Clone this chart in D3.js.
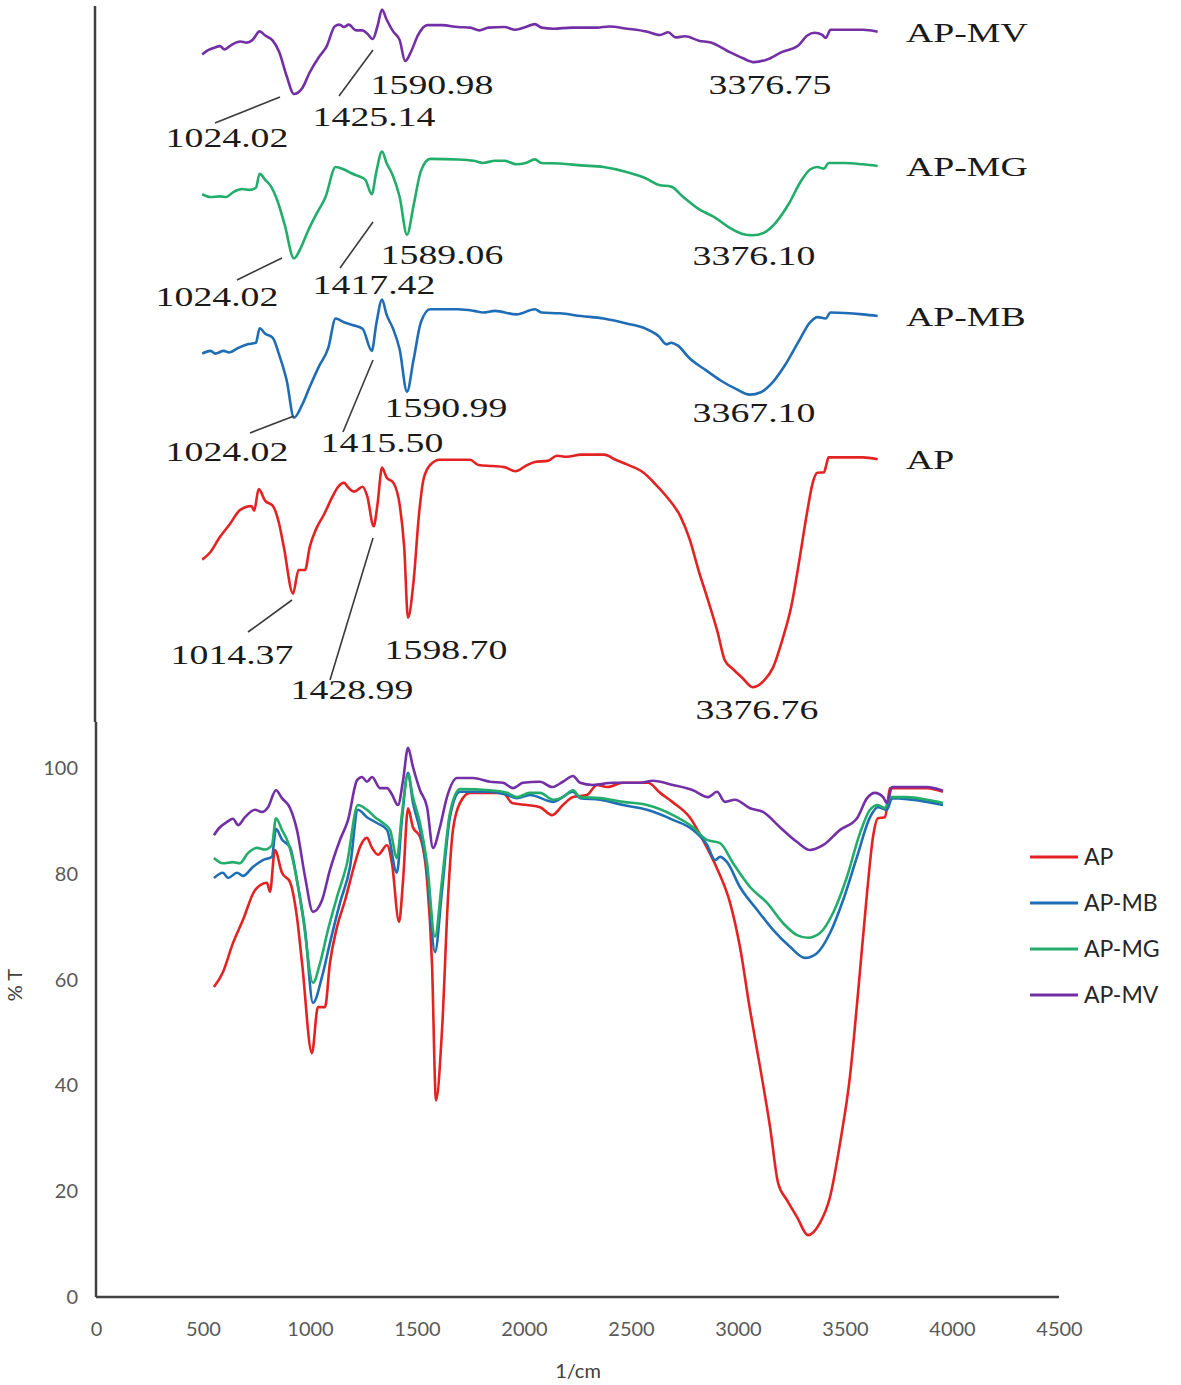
<!DOCTYPE html>
<html>
<head>
<meta charset="utf-8">
<script src="https://cdn.jsdelivr.net/npm/d3@7/dist/d3.min.js"></script>
<style>
body{margin:0;background:#fff;}
</style>
</head>
<body>
<svg id="chart" width="1181" height="1385"></svg>
<script>
// spectra: [wavenumber 1/cm, %T]
var apData = [[551,58.6],[593,61.4],[640,66.9],[687,71.3],[743,76.9],[799,78.3],[813,76.6],[836,84.5],[869,80.2],[907,78.4],[939,71.8],[963,63.1],[1009,46.1],[1037,54.8],[1070,54.8],[1093,63.1],[1126,69.9],[1164,75.0],[1210,82.0],[1234,85.1],[1266,86.8],[1290,84.9],[1318,83.6],[1360,85.4],[1383,82.0],[1416,70.9],[1435,78.8],[1458,92.4],[1481,88.8],[1514,87.0],[1547,78.8],[1570,63.1],[1589,37.2],[1617,50.5],[1645,75.6],[1668,88.3],[1701,93.4],[1748,95.3],[1902,95.3],[1944,93.4],[2014,93.0],[2075,92.6],[2131,91.1],[2182,93.0],[2229,94.5],[2294,94.9],[2341,96.8],[2388,96.4],[2463,97.2],[2579,97.2],[2636,95.3],[2696,93.5],[2776,90.6],[2836,86.4],[2902,81.0],[2963,74.5],[3009,66.2],[3056,54.3],[3103,43.5],[3150,32.1],[3187,21.6],[3229,18.3],[3276,15.1],[3327,11.7],[3383,14.0],[3430,18.9],[3477,29.1],[3523,41.6],[3561,57.5],[3603,76.4],[3631,87.0],[3654,90.5],[3687,90.7],[3701,94.0],[3710,96.2],[3790,96.2],[3883,96.2],[3958,95.5]];
var mbData = [[551,79.2],[593,80.2],[617,79.2],[659,80.2],[687,79.6],[733,81.3],[780,82.6],[822,83.2],[841,88.5],[869,86.5],[907,85.0],[939,78.8],[977,69.4],[1014,55.6],[1056,60.5],[1093,66.9],[1140,74.5],[1187,81.3],[1224,92.1],[1266,90.7],[1313,89.6],[1360,88.3],[1406,80.2],[1430,90.5],[1458,99.1],[1481,93.5],[1514,88.3],[1547,80.7],[1584,65.2],[1617,76.9],[1654,90.7],[1701,95.5],[1841,95.5],[1921,94.9],[1967,94.3],[2028,94.9],[2136,93.6],[2229,95.5],[2262,94.3],[2355,94.0],[2463,93.0],[2575,92.1],[2696,90.2],[2790,88.3],[2855,85.5],[2893,82.6],[2916,83.2],[2949,82.2],[3009,77.5],[3089,73.2],[3164,69.4],[3243,66.2],[3313,64.1],[3369,65.0],[3430,68.8],[3491,75.0],[3556,83.2],[3617,90.7],[3654,92.6],[3696,92.1],[3720,94.3],[3883,93.6],[3958,93.0]];
var mgData = [[551,83.0],[593,82.0],[640,82.2],[672,82.0],[710,83.9],[752,84.9],[790,84.6],[822,85.4],[841,90.5],[869,88.3],[897,86.0],[930,80.7],[967,71.8],[1014,59.4],[1047,63.1],[1084,69.4],[1126,75.6],[1173,82.0],[1224,93.0],[1266,92.1],[1304,90.7],[1341,89.6],[1374,88.3],[1406,83.0],[1430,91.5],[1458,98.7],[1481,94.5],[1514,89.6],[1547,82.0],[1584,68.1],[1617,78.8],[1654,91.5],[1701,96.0],[1841,95.8],[1921,95.3],[1967,94.5],[2028,95.3],[2075,95.3],[2136,94.0],[2182,94.5],[2229,95.8],[2262,94.5],[2355,94.3],[2463,93.6],[2575,93.0],[2696,91.1],[2790,88.8],[2855,86.4],[2916,85.8],[2977,82.0],[3056,77.5],[3136,74.5],[3210,70.7],[3276,68.4],[3327,67.9],[3383,68.8],[3444,72.6],[3509,79.4],[3570,87.7],[3617,92.1],[3654,93.0],[3687,92.4],[3710,94.5],[3790,94.5],[3883,94.0],[3958,93.4]];
var mvData = [[551,87.3],[579,88.8],[612,89.8],[640,90.4],[664,89.2],[696,90.7],[743,92.1],[776,91.7],[804,92.6],[841,95.8],[869,94.3],[907,92.4],[939,88.3],[977,79.4],[1014,72.8],[1056,75.0],[1093,80.7],[1140,86.4],[1178,90.2],[1220,97.7],[1243,98.3],[1266,97.4],[1290,98.3],[1327,96.2],[1360,96.2],[1383,95.0],[1411,93.0],[1435,97.7],[1458,103.8],[1481,100.2],[1514,95.8],[1547,92.6],[1575,84.9],[1607,88.8],[1640,94.5],[1687,98.1],[1762,98.1],[1841,97.4],[1902,97.2],[1949,96.2],[1995,97.2],[2075,97.4],[2131,96.4],[2182,97.4],[2229,98.5],[2262,97.2],[2322,96.8],[2416,97.2],[2542,97.2],[2603,97.6],[2696,96.8],[2790,95.8],[2860,94.5],[2902,95.5],[2939,93.6],[2986,94.0],[3056,92.4],[3117,91.7],[3196,88.8],[3276,86.0],[3336,84.5],[3397,85.4],[3477,88.3],[3556,90.5],[3603,94.3],[3640,95.3],[3678,94.5],[3696,93.4],[3720,96.4],[3883,96.4],[3958,95.7]];

var seriesNames = ["AP","AP-MB","AP-MG","AP-MV"];
var seriesData = [apData, mbData, mgData, mvData];
var seriesColors = ["#e32222","#1f6db5","#22ad6a","#7330a6"];

var xTicks = [0,500,1000,1500,2000,2500,3000,3500,4000,4500];
var yTicks = [0,20,40,60,80,100];

// peak labels of the stacked panel (series index, label)
var peakLabels = [
  [3,"1024.02"],[3,"1425.14"],[3,"1590.98"],[3,"3376.75"],
  [2,"1024.02"],[2,"1417.42"],[2,"1589.06"],[2,"3376.10"],
  [1,"1024.02"],[1,"1415.50"],[1,"1590.99"],[1,"3367.10"],
  [0,"1014.37"],[0,"1428.99"],[0,"1598.70"],[0,"3376.76"]
];
// where each label sits, and its leader line if any
var peakPos = [
  {x:227,y:147,l:[215,123,280,97]},{x:374,y:126,l:[339,96,373,50]},{x:432,y:94},{x:770,y:94},
  {x:217,y:306,l:[237,280,282,258]},{x:374,y:294,l:[340,268,373,222]},{x:442,y:264},{x:754,y:265},
  {x:227,y:461,l:[250,433,294,416]},{x:382,y:452,l:[343,432,373,360]},{x:446,y:417},{x:754,y:422},
  {x:232,y:664,l:[248,632,292,600]},{x:352,y:699,l:[330,680,373,538]},{x:446,y:659},{x:757,y:719}
];

var svg = d3.select("#chart");

// ---------- lower chart ----------
var x = d3.scaleLinear().domain([0,4500]).range([96,1059]);
var y = d3.scaleLinear().domain([0,100]).range([1297,768]);

var line = d3.line()
  .curve(d3.curveMonotoneX)
  .x(function(d){return x(d[0]);})
  .y(function(d){return y(d[1]);});

var lower = svg.append("g");

seriesData.forEach(function(s,i){
  lower.append("path")
    .datum(s)
    .attr("d",line)
    .attr("fill","none")
    .attr("stroke",seriesColors[i])
    .attr("stroke-width",2.6)
    .attr("stroke-linejoin","round");
});

var xAxis = lower.append("g")
  .attr("transform","translate(0,"+y(0)+")")
  .call(d3.axisBottom(x).tickValues(xTicks).tickSize(0).tickPadding(25).tickFormat(d3.format("d")));
var yAxis = lower.append("g")
  .attr("transform","translate("+x(0)+",0)")
  .call(d3.axisLeft(y).tickValues(yTicks).tickSize(0).tickPadding(18).tickFormat(d3.format("d")));

[xAxis,yAxis].forEach(function(a){
  a.select(".domain").remove();
  a.selectAll("text")
    .attr("font-family","Lato, 'Open Sans', sans-serif")
    .attr("font-size",20)
    .attr("fill","#595959");
});

// axis lines (the left one runs up into the stacked panel)
lower.append("line")
  .attr("x1",x(0)).attr("x2",x(4500))
  .attr("y1",y(0)).attr("y2",y(0))
  .attr("stroke","#404040").attr("stroke-width",2.5);
lower.append("line")
  .attr("x1",x(0)).attr("x2",x(0))
  .attr("y1",y(0)).attr("y2",722)
  .attr("stroke","#404040").attr("stroke-width",2.5);

lower.append("text")
  .attr("transform","translate(22,985) rotate(-90)")
  .attr("text-anchor","middle")
  .attr("font-family","Lato, 'Open Sans', sans-serif")
  .attr("font-size",20)
  .attr("fill","#404040")
  .text("% T");

lower.append("text")
  .attr("x",578).attr("y",1378)
  .attr("text-anchor","middle")
  .attr("font-family","Lato, 'Open Sans', sans-serif")
  .attr("font-size",20)
  .attr("fill","#404040")
  .text("1/cm");

// legend
var legend = lower.append("g").attr("transform","translate(1030,857)");
seriesNames.forEach(function(n,i){
  var row = legend.append("g").attr("transform","translate(0,"+(i*46)+")");
  row.append("line")
    .attr("x1",0).attr("x2",48)
    .attr("stroke",seriesColors[i]).attr("stroke-width",3);
  row.append("text")
    .attr("x",54).attr("dy","0.36em")
    .attr("font-family","Lato, 'Open Sans', sans-serif")
    .attr("font-size",23)
    .attr("fill","#262626")
    .text(n);
});

// ---------- stacked panel on top ----------
var upper = svg.append("g");
var xs = d3.scaleLinear().domain([550,4000]).range([202,886]);
var stackTop = [447,297,148,20];   // y of 100 %T for each trace
var stackSpan = 272;               // pixels for 100 %T

upper.append("line")
  .attr("x1",95).attr("x2",95)
  .attr("y1",6).attr("y2",722)
  .attr("stroke","#404040").attr("stroke-width",2.5);

seriesData.forEach(function(s,i){
  var ys = d3.scaleLinear().domain([0,100]).range([stackTop[i]+stackSpan,stackTop[i]]);
  upper.append("path")
    .datum(s)
    .attr("d",d3.line().curve(d3.curveMonotoneX).x(function(d){return xs(d[0]);}).y(function(d){return ys(d[1]);}))
    .attr("fill","none")
    .attr("stroke",seriesColors[i])
    .attr("stroke-width",2.6)
    .attr("stroke-linejoin","round");
  var last = s[s.length-1];
  upper.append("text")
    .attr("transform","translate(906,"+(ys(last[1])+10)+") scale(1.4,1)")
    .attr("font-family","'Liberation Serif', 'Times New Roman', serif")
    .attr("font-size",27)
    .attr("fill","#1a1a1a")
    .text(seriesNames[i]);
});

peakLabels.forEach(function(p,i){
  var pos = peakPos[i];
  if(pos.l){
    upper.append("line")
      .attr("x1",pos.l[0]).attr("y1",pos.l[1])
      .attr("x2",pos.l[2]).attr("y2",pos.l[3])
      .attr("stroke","#3a3a3a").attr("stroke-width",1.6);
  }
  upper.append("text")
    .attr("transform","translate("+pos.x+","+pos.y+") scale(1.4,1)")
    .attr("text-anchor","middle")
    .attr("font-family","'Liberation Serif', 'Times New Roman', serif")
    .attr("font-size",27)
    .attr("fill","#1a1a1a")
    .text(p[1]);
});
</script>
</body>
</html>
